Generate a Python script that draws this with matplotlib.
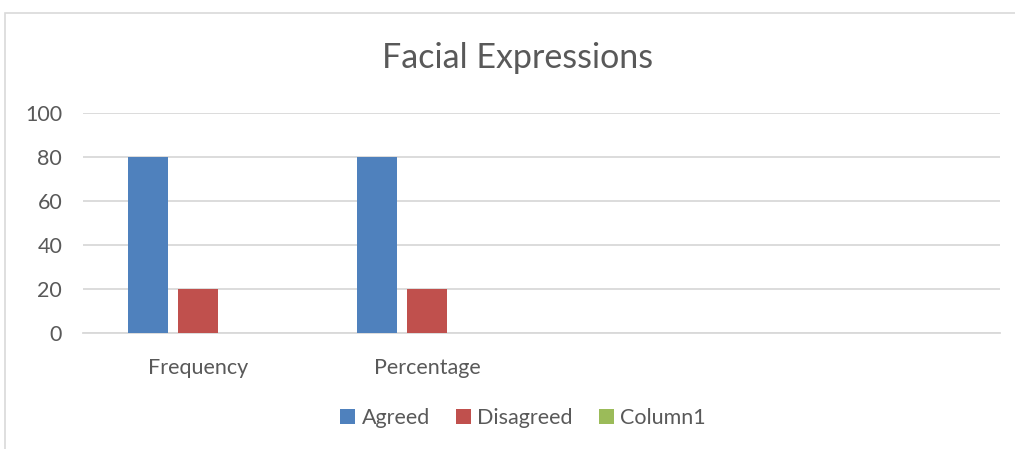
import matplotlib
matplotlib.use("Agg")
import matplotlib.pyplot as plt
import numpy as np
from matplotlib.patches import Rectangle, Patch

categories = ["Frequency", "Percentage", "", ""]
agreed = [80, 80, np.nan, np.nan]
disagreed = [20, 20, np.nan, np.nan]
column1 = [np.nan, np.nan, np.nan, np.nan]
series_names = ["Agreed", "Disagreed", "Column1"]
colors = ["#4F81BD", "#C0504D", "#9BBB59"]
yticks = [0, 20, 40, 60, 80, 100]

plt.rcParams['font.family'] = ['Lato', 'DejaVu Sans']
W, H = 1015, 449
fig = plt.figure(figsize=(W / 100, H / 100), dpi=100)
fig.patch.set_facecolor("white")

# chart border
fig.patches.append(Rectangle((5 / W, -0.1), 1.2, (H - 13) / H + 0.1,
                             transform=fig.transFigure, fill=False,
                             edgecolor="#d9d9d9", linewidth=1.2))

ax = fig.add_axes([83 / W, (H - 333) / H, (1000 - 83) / W, (333 - 113) / H])
x = np.arange(len(categories))
bw = 40 / 229
offs = [-50 / 229, 0, 50 / 229]
for vals, off, c, n in zip([agreed, disagreed, column1], offs, colors, series_names):
    ax.bar(x + off, vals, width=bw, color=c, label=n, zorder=3)

ax.set_xlim(-0.5, len(categories) - 0.5)
ax.set_ylim(0, 100)
ax.set_yticks(yticks)
ax.set_xticks(x)
ax.set_xticklabels(categories)
ax.yaxis.grid(True, color="#d9d9d9", linewidth=1.3, zorder=0)
for s in ["top", "right", "left"]:
    ax.spines[s].set_visible(False)
ax.spines["bottom"].set_color("#d9d9d9")
ax.spines["bottom"].set_linewidth(1.3)
ax.tick_params(axis="both", length=0, colors="#595959", labelsize=15.5)
ax.tick_params(axis="y", pad=15)
ax.tick_params(axis="x", pad=18)

fig.text(518 / W, 1 - 58 / H, "Facial Expressions", ha="center", va="center",
         fontsize=24.5, color="#595959")

handles = [Patch(facecolor=c, label=n) for c, n in zip(colors, series_names)]
fig.legend(handles=handles, loc="center", bbox_to_anchor=(523 / W, 1 - 418 / H),
           ncol=3, frameon=False, fontsize=15.5, labelcolor="#595959",
           handlelength=0.7, handleheight=0.7, handletextpad=0.3, columnspacing=1.2)

fig.savefig("out.png", dpi=100, facecolor="white")
